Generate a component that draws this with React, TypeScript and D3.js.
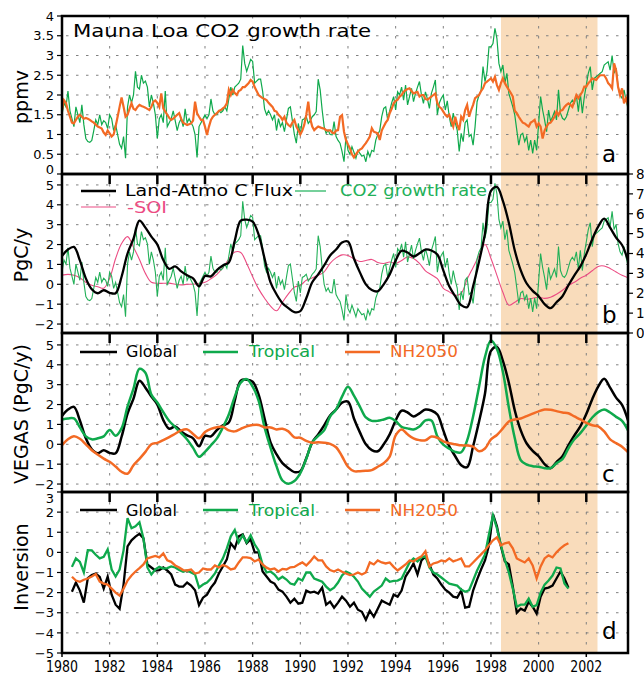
import * as d3 from "d3";

// Mauna Loa CO2 growth rate, monthly from Jan 1980 (ppmv/yr)
const co2Rate = [
  1.5, 1.8, 1.7, 2.1, 1.6, 1.4, 1.2, 1.7, 1.5, 1.3, 1.75, 1.25,
  0.9, 0.82, 0.8, 0.85, 1.1, 1.37, 1.25, 1.5, 1.25, 1.35, 1.3, 1.15,
  1.5, 1.4, 1.1, 1.25, 1.0, 0.75, 0.65, 0.95, 0.4, 1.7, 2.0, 1.8,
  2.0, 2.6, 2.2, 2.15, 2.5, 2.3, 2.35, 2.2, 1.7, 2.0, 1.8, 1.5,
  0.9, 1.4, 1.5, 1.3, 2.1, 1.2, 1.3, 1.4, 1.6, 1.35, 1.1, 1.3,
  1.4, 1.2, 1.65, 1.3, 1.4, 1.3, 1.2, 1.0, 0.42, 1.2, 1.3, 1.4,
  1.5, 1.4, 1.5, 1.9, 1.6, 1.5, 1.5, 1.6, 1.55, 1.6, 1.7, 1.6,
  1.9, 2.2, 2.0, 2.2, 2.25, 2.3, 2.4, 3.25, 2.8, 2.6, 2.75, 2.9,
  2.85, 2.3, 2.35, 2.4, 2.4, 2.1, 1.65, 1.5, 1.6, 1.5, 1.37, 1.5,
  1.1, 1.4, 1.2, 1.3, 1.07, 1.37, 1.66, 1.7, 1.35, 1.0, 0.78, 1.28,
  0.99, 1.37, 1.4, 1.45, 1.28, 1.35, 1.45, 1.5, 1.58, 2.4, 2.13, 1.62,
  1.2, 1.03, 1.11, 1.0, 0.99, 1.33, 0.95, 0.85, 0.78, 0.57, 0.31, 0.95,
  0.6, 0.5, 0.69, 0.55, 0.4, 0.6, 0.52, 0.45, 0.48, 0.31, 0.57, 0.44,
  0.6, 0.57, 0.86, 1.0, 1.1, 1.45, 1.66, 1.7, 1.37, 1.6, 1.8, 1.96,
  1.62, 2.08, 2.0, 2.2, 1.87, 2.25, 1.75, 1.96, 2.17, 1.83, 2.04, 2.2,
  2.34, 2.0, 1.79, 2.08, 1.9, 1.66, 2.04, 2.2, 2.38, 1.5, 1.8, 1.92,
  2.0, 1.62, 1.85, 1.45, 1.2, 1.54, 1.3, 1.11, 0.57, 1.03, 0.82, 1.3,
  1.37, 0.95, 1.0, 0.73, 1.2, 1.83, 2.0, 2.1, 2.72, 2.34, 2.59, 3.22,
  3.22, 3.3, 3.69, 3.43, 2.8, 2.59, 2.76, 2.3, 2.55, 2.04, 1.87, 1.7,
  1.49, 1.11, 0.73, 0.99, 1.03, 0.82, 0.95, 0.6, 0.86, 0.52, 0.86, 0.6,
  1.28, 1.96, 1.62, 1.37, 1.07, 1.62, 1.33, 1.45, 1.58, 1.37, 2.13, 1.54,
  1.41, 1.37, 1.45, 1.62, 1.79, 1.87, 1.79, 2.0, 1.58, 2.04, 1.54, 1.95,
  2.25, 2.55, 2.72, 2.13, 2.42, 2.46, 2.5, 2.55, 2.59, 2.76, 2.8, 2.84,
  2.63, 3.0, 2.55, 2.68, 2.21, 2.0, 1.92, 2.13, 1.87, 1.66,
];

// orange curve in panel a, monthly from Jan 1980 (ppmv/yr)
const co2Model = [
  1.62, 1.87, 1.8, 1.6, 1.45, 1.3, 1.28, 1.37, 1.45, 1.5, 1.45, 1.4,
  1.42, 1.4, 1.37, 1.33, 1.3, 1.25, 1.2, 1.18, 1.15, 1.05, 0.99, 1.1,
  1.03, 0.95, 1.0, 1.2, 1.45, 1.7, 1.94, 1.7, 1.45, 1.5, 1.65, 1.79,
  1.65, 1.62, 1.7, 1.75, 1.72, 1.7, 1.68, 1.65, 1.62, 1.7, 1.83, 1.86,
  1.8, 1.7, 2.04, 1.66, 1.58, 1.5, 1.42, 1.37, 1.4, 1.45, 1.5, 1.54,
  1.4, 1.3, 1.27, 1.24, 1.26, 1.28, 1.35, 1.83, 1.54, 1.45, 1.37, 1.37,
  1.2, 0.99, 1.2, 1.37, 1.45, 1.5, 1.54, 1.6, 1.62, 1.66, 1.7, 1.79,
  2.13, 2.0, 2.13, 2.05, 2.0, 2.1, 2.13, 2.2, 2.2, 2.25, 2.3, 2.38,
  2.34, 2.2, 2.1, 2.0, 1.96, 1.92, 1.9, 1.87, 1.8, 1.75, 1.7, 1.6,
  1.58, 1.5, 1.45, 1.37, 1.45, 1.3, 1.24, 1.2, 1.3, 1.37, 1.2, 1.11,
  1.0, 1.1, 1.25, 1.5, 1.83, 1.4, 1.2, 1.11, 1.16, 1.2, 1.18, 1.16,
  1.15, 1.11, 1.1, 1.11, 1.05, 1.03, 1.1, 1.11, 1.45, 1.49, 1.07, 0.86,
  0.75, 0.65, 0.5, 0.42, 0.5, 0.57, 0.62, 0.65, 0.72, 0.78, 0.86, 0.95,
  1.16, 1.07, 1.05, 1.03, 0.86, 1.1, 1.2, 1.3, 1.37, 1.54, 1.65, 1.79,
  1.85, 1.88, 1.96, 2.0, 2.08, 2.12, 2.15, 2.17, 2.1, 2.04, 2.06, 2.08,
  1.96, 2.0, 2.0, 1.9, 1.88, 1.92, 1.96, 2.0, 2.04, 1.79, 1.7, 1.66,
  1.58, 1.5, 1.45, 1.5, 1.35, 1.2, 1.45, 1.25, 1.11, 1.45, 1.37, 1.62,
  1.75, 1.45, 1.62, 1.75, 1.92, 1.96, 2.0, 2.1, 2.17, 2.3, 2.34, 2.38,
  2.42, 2.34, 2.46, 2.25, 2.13, 2.3, 2.42, 2.3, 2.21, 2.13, 2.05, 1.96,
  1.6, 1.54, 1.45, 1.37, 1.3, 1.28, 1.24, 1.2, 1.3, 1.33, 1.37, 1.2,
  1.28, 1.2, 0.9, 1.1, 1.2, 1.28, 1.3, 1.37, 1.45, 1.58, 1.49, 1.6,
  1.62, 1.7, 1.75, 1.79, 1.75, 1.7, 1.85, 2.0, 1.92, 2.0, 2.08, 2.21,
  2.21, 2.3, 2.35, 2.42, 2.4, 2.38, 2.45, 2.5, 2.5, 2.5, 2.42, 2.3,
  2.25, 2.17, 2.8, 2.63, 2.21, 2.0, 2.17, 1.79, 1.92, 1.75,
];

// VEGAS fluxes, quarterly from 1980.0 (PgC/y)
const vegasGlobal = [
  1.42, 1.75, 1.88, 1.2, 0.3, -0.25, -0.45, -0.3, -0.43, -0.45, 0.38, 1.55,
  2.3, 3.2, 2.85, 2.4, 2.0, 1.22, 0.78, 0.9, 0.65, 0.45, 0.3, -0.1,
  0.42, 0.4, 0.72, 0.95, 1.1, 2.2, 3.2, 3.25, 3.15, 2.5, 1.3, 0.1,
  -0.5, -0.95, -1.2, -1.4, -1.35, -0.7, 0.1, 0.5, 0.95, 1.45, 1.75, 2.1,
  2.15, 1.3, 0.6, 0.0, -0.29, -0.35, 0.0, 0.5, 1.2, 1.69, 1.6, 1.4,
  1.56, 1.75, 1.7, 1.5, 0.7, -0.1, -0.6, -1.05, -1.15, -0.1, 1.15, 2.56,
  4.7, 4.9, 4.2, 3.1, 1.7, 0.7, 0.04, -0.33, -0.6, -1.0, -1.2, -0.9,
  -0.6, -0.05, 0.45, 0.9, 1.52, 2.27, 2.9, 3.3, 2.85, 2.35, 1.98, 1.2,
];
const vegasTropical = [
  1.25, 1.3, 1.3, 0.85, 0.4, 0.25, 0.3, 0.4, 0.72, 0.43, 0.8, 1.9,
  2.8, 3.8, 3.6, 2.5, 2.1, 1.62, 1.17, 0.87, 0.56, 0.24, -0.18, -0.63,
  -0.38, -0.05, 0.3, 0.85, 1.5, 2.4, 3.1, 3.28, 2.9, 2.2, 0.85, -0.17,
  -1.1, -1.82, -1.98, -1.85, -1.45, -0.73, 0.1, 0.42, 0.7, 1.4, 1.75, 2.4,
  2.9, 2.45, 1.9, 1.35, 1.18, 1.18, 1.25, 1.33, 1.17, 0.88, 0.8, 0.75,
  0.9, 1.2, 1.2, 0.4, -0.02, -0.22, -0.38, -0.4, 0.2, 1.4, 2.9, 4.4,
  5.22, 4.8, 3.65, 1.85, 0.3, -0.8, -1.02, -1.1, -1.13, -1.2, -1.2, -0.95,
  -0.75, -0.2, 0.25, 0.56, 0.95, 1.35, 1.62, 1.75, 1.6, 1.38, 1.18, 0.7,
];
const vegasNH = [
  -0.04, 0.25, 0.4, 0.28, 0.0, -0.3, -0.52, -0.72, -0.88, -1.12, -1.38, -1.48,
  -1.05, -0.73, -0.38, 0.0, 0.07, 0.21, 0.36, 0.53, 0.7, 0.75, 0.52, 0.3,
  0.62, 0.78, 0.86, 0.88, 0.7, 0.65, 0.78, 0.9, 0.97, 0.97, 0.85, 0.85,
  0.75, 0.78, 0.65, 0.35, 0.33, 0.17, 0.08, 0.1, 0.08, 0.02, -0.15, -0.6,
  -1.13, -1.35, -1.35, -1.33, -1.3, -1.13, -0.95, -0.62, 0.45, 0.75, 0.5, 0.3,
  0.21, 0.2, 0.39, 0.33, 0.15, 0.05, 0.0, -0.05, -0.06, -0.12, -0.35, -0.21,
  0.25, 0.47, 0.8, 1.15, 1.25, 1.3, 1.42, 1.54, 1.66, 1.75, 1.74, 1.67,
  1.6, 1.56, 1.4, 1.25, 1.08, 0.96, 0.9, 0.65, 0.25, 0.06, -0.12, -0.4,
];
// -SOI, quarterly from 1980.0 (left axis units)
const negSOI = [
  0.46, 0.5, 0.46, 0.33, 0.1, -0.05, -0.12, -0.2, 0.3, 1.3, 2.05, 2.4,
  1.87, 1.25, 0.55, 0.1, 0.05, 0.05, 0.06, 0.0, -0.03, 0.0, 0.01, 0.05,
  0.1, 0.28, 0.5, 0.85, 1.27, 1.62, 1.6, 1.05, 0.38, -0.23, -0.7, -1.1,
  -1.33, -0.9, -0.48, -0.14, -0.05, 0.2, 0.32, 0.45, 0.63, 1.05, 1.33, 1.48,
  1.45, 1.28, 1.15, 1.2, 1.25, 1.1, 1.05, 1.12, 1.05, 1.2, 1.38, 1.3,
  1.05, 0.68, 0.48, 0.28, -0.2, -0.38, -0.55, -0.45, 0.25, 0.85, 1.45, 2.0,
  1.3, 0.45, -0.4, -1.05, -0.9, -0.72, -0.75, -0.7, -0.65, -0.71, -0.65, -0.5,
  -0.3, -0.05, 0.1, 0.3, 0.46, 0.68, 0.9, 0.92, 0.8, 0.62, 0.45, 0.33,
];

// inversion fluxes, every two months from mid-1980 (PgC/y)
const invGlobal = [
  -1.96, -1.5, -1.9, -2.5,
  -1.28, -1.12, -1.05, -1.22, -1.8, -1.2,
  -2.1, -2.6, -2.8, -1.6, 0.3, 0.6,
  0.78, 0.92, 0.7, -0.6, -0.75, -0.9,
  -0.88, -0.75, -0.9, -1.1, -1.6, -1.7,
  -1.7, -1.5, -1.65, -1.88, -2.62, -2.25,
  -2.1, -1.75, -1.5, -1.05, -0.7, -0.35,
  0.45, 0.2, 0.8, 0.9, 0.45, 0.65,
  0.0, 0.0, -0.95, -1.2, -1.45, -1.55,
  -1.85, -1.95, -2.2, -2.5, -2.3, -2.55,
  -2.5, -1.9, -2.0, -1.95, -2.04, -1.75,
  -2.6, -2.45, -2.75, -2.5, -2.2, -2.4,
  -2.7, -2.5, -2.85, -2.95, -3.35, -2.9,
  -3.2, -2.8, -2.4, -2.5, -2.6, -2.1,
  -2.2, -1.9, -1.2, -0.9, -0.55, -1.1,
  -0.4, -0.2, -0.6, -1.1, -1.3, -1.6,
  -1.85, -2.0, -2.2, -2.25, -1.9, -2.75,
  -2.7, -1.9, -1.35, -0.85, -0.4, 0.35,
  1.9, 1.3, 0.3, -0.45, -0.6, -1.7,
  -3.0, -2.8, -2.9, -2.45, -2.7, -3.04,
  -2.2, -1.8, -1.75, -1.65, -1.3, -0.95,
  -1.3, -1.75,
];
const invTropical = [
  -0.72, -0.3, -0.47, -1.0,
  0.11, 0.1, -0.12, -0.3, -0.22, 0.15,
  -0.85, -1.2, -0.85, 0.1, 1.7, 1.2,
  1.3, 1.5, 0.7, -0.75, -1.1, -0.85,
  -0.72, -0.8, -0.78, -0.7, -0.75, -0.88,
  -0.96, -0.9, -1.0, -1.1, -1.75, -1.6,
  -1.5, -1.3, -1.05, -0.65, -0.3, 0.2,
  0.8, 1.11, 0.5, 0.85, 0.5, 0.85,
  0.4, 0.1, -0.6, -1.0, -0.95, -1.1,
  -1.35, -1.21, -1.35, -1.55, -1.6, -1.3,
  -1.4, -1.0, -1.0, -1.3, -1.38, -1.46,
  -1.7, -1.88, -1.75, -1.5, -1.15, -0.96,
  -1.05, -1.21, -1.45, -1.8, -2.0, -2.2,
  -1.95, -1.8, -1.65, -1.3, -1.46, -1.42,
  -1.4, -1.3, -0.9, -0.5, -0.3, -0.45,
  -0.25, -0.2, -0.75, -1.0, -1.1, -1.25,
  -1.4, -1.55, -1.6, -1.65, -1.85, -1.96,
  -1.88, -1.4, -0.9, -0.5, -0.1, 0.9,
  1.84, 1.2, 0.35, -0.38, -1.0, -1.8,
  -2.7, -2.6, -2.6, -2.3, -2.7, -2.62,
  -2.0, -1.6, -1.4, -1.15, -0.75, -0.8,
  -1.55, -1.8,
];
const invNH = [
  -1.21, -1.4, -1.46, -1.36,
  -1.3, -1.2, -1.08, -1.45, -1.55, -1.6,
  -1.8, -2.0, -2.15, -1.8, -1.4, -1.15,
  -0.95, -0.78, -0.6, -0.3, -0.24, -0.18,
  -0.25, -0.05, -0.4, -0.47, -0.65, -0.75,
  -0.88, -0.9, -0.85, -1.05, -1.0, -0.8,
  -0.85, -0.85, -0.65, -0.75, -0.63, -0.7,
  -0.85, -0.8, -0.5, -0.25, -0.25, -0.28,
  -0.45, -0.35, -0.6, -0.76, -0.85, -0.8,
  -0.95, -0.82, -0.85, -0.74, -0.72, -0.6,
  -0.5, -0.65, -0.45, -0.2, -0.4, -0.4,
  -0.7, -0.88, -0.95, -0.85, -0.96, -1.05,
  -1.13, -1.1, -1.0, -1.1, -1.0, -0.5,
  -0.6, -0.4, -0.5, -0.55, -0.5, -0.72,
  -0.9, -0.75, -0.6, -0.4, -0.45, -0.3,
  -0.2, 0.05, -0.7, -0.55, -0.5, -0.4,
  -0.45, -0.3, -0.45, -0.38, -0.3, -0.7,
  -0.7, -0.5, -0.3, -0.1, 0.1, 0.36,
  0.6, 0.75, 0.35, 0.45, 0.5, 0.2,
  -0.3, -0.4, -0.5, -0.3, -0.65, -1.3,
  -0.7, -0.3, -0.15, -0.25, 0.0, 0.2,
  0.35, 0.45,
];

const yearLabels = ["1980", "1982", "1984", "1986", "1988", "1990", "1992", "1994", "1996", "1998", "2000", "2002"];
const elNinoSpan = [1998.42, 2002.47];
// CO2 growth rate in panel b is shown in PgC/y
const pgcPerPpmv = 2.04;

const GREEN = "#0fa94c";
const ORANGE = "#f36a24";
const PINK = "#ec4c83";
const FONT = "DejaVu Sans, sans-serif";

type Pt = [number, number];

const monthly = (v: number[]): Pt[] => v.map((d, i) => [1980 + i / 12, d]);
const quarterly = (v: number[]): Pt[] => v.map((d, i) => [1980 + i / 4, d]);
const bimonthly = (v: number[]): Pt[] => v.map((d, i) => [1980 + 5 / 12 + i / 6, d]);

export default function App() {
  const W = 644;
  const H = 675;
  const left = 62;
  const right = 628;

  const x = d3.scaleLinear().domain([1980, 2003.75]).range([left, right]);

  const panels = [
    { id: "a", top: 16, bottom: 174, y: d3.scaleLinear().domain([0, 4]).range([174, 16]), ticks: d3.range(0, 4.01, 0.5), title: "ppmv", titleY: 97 },
    { id: "b", top: 174, bottom: 333, y: d3.scaleLinear().domain([-2.45, 5.55]).range([333, 174]), ticks: d3.range(-2, 5.01, 1), title: "PgC/y", titleY: 255 },
    { id: "c", top: 333, bottom: 492, y: d3.scaleLinear().domain([-2.4, 5.6]).range([492, 333]), ticks: d3.range(-2, 5.01, 1), title: "VEGAS  (PgC/y)", titleY: 414 },
    { id: "d", top: 492, bottom: 653, y: d3.scaleLinear().domain([-5, 3]).range([653, 492]), ticks: d3.range(-5, 3.01, 1), title: "Inversion", titleY: 567 },
  ];
  const [pa, pb, pc, pd] = panels;
  const yRight = d3.scaleLinear().domain([0, 8]).range([333, 174]);

  const fmt = d3.format("");
  const gridYears = d3.range(1982, 2003, 2);

  // the two labels sitting on a shared border get nudged off the neighbour panel's labels
  const labelShift = (id: string, t: number) => {
    if (id === "a" && t === 0) return -5;
    if (id === "d" && t === 3) return 6;
    return 0;
  };

  const lin = (pts: Pt[], y: d3.ScaleLinear<number, number>) =>
    d3.line<Pt>().x((d) => x(d[0])).y((d) => y(d[1]))(pts) || "";
  const smooth = (pts: Pt[], y: d3.ScaleLinear<number, number>) =>
    d3.line<Pt>().x((d) => x(d[0])).y((d) => y(d[1])).curve(d3.curveCatmullRom.alpha(0.5))(pts) || "";

  const co2PgC = co2Rate.map((v) => v * pgcPerPpmv);

  const legendText = (tx: number, ty: number, s: string, color: string, len: number) => (
    <text x={tx} y={ty} fill={color} fontSize={15} textLength={len} lengthAdjust="spacingAndGlyphs">{s}</text>
  );
  const legendLine = (x1: number, x2: number, ly: number, color: string, w = 2.5) => (
    <line x1={x1} x2={x2} y1={ly} y2={ly} stroke={color} strokeWidth={w} />
  );

  return (
    <svg width={W} height={H} style={{ position: "absolute", left: 0, top: 0, background: "#fff" }} fontFamily={FONT}>
      <defs>
        {panels.map((p) => (
          <clipPath id={`clip-${p.id}`} key={p.id}>
            <rect x={left} y={p.top} width={right - left} height={p.bottom - p.top} />
          </clipPath>
        ))}
      </defs>

      {/* shaded 1998-2002 period */}
      <rect x={x(elNinoSpan[0])} y={16} width={x(elNinoSpan[1]) - x(elNinoSpan[0])} height={653 - 16} fill="#f9dcbb" />

      {/* dotted grid */}
      {panels.map((p) => (
        <g key={`grid-${p.id}`} stroke="#808080" strokeWidth={1} strokeDasharray="2.5,7.5">
          {p.ticks.filter((t) => p.y(t) > p.top + 1 && p.y(t) < p.bottom - 1).map((t) => (
            <line key={t} x1={left + 4} x2={right} y1={p.y(t)} y2={p.y(t)} />
          ))}
          {gridYears.map((yr) => (
            <line key={yr} x1={x(yr)} x2={x(yr)} y1={p.top} y2={p.bottom} />
          ))}
        </g>
      ))}

      {/* panel a */}
      <g clipPath="url(#clip-a)" fill="none">
        <path d={lin(monthly(co2Rate), pa.y)} stroke={GREEN} strokeWidth={1.2} />
        <path d={lin(monthly(co2Model), pa.y)} stroke={ORANGE} strokeWidth={2.2} />
      </g>

      {/* panel b */}
      <g clipPath="url(#clip-b)" fill="none">
        <path d={smooth(quarterly(negSOI), pb.y)} stroke={PINK} strokeWidth={1.1} />
        <path d={lin(monthly(co2PgC), yRight)} stroke="#22b058" strokeWidth={1.1} />
        <path d={smooth(quarterly(vegasGlobal), pb.y)} stroke="#000" strokeWidth={2.3} />
      </g>

      {/* panel c */}
      <g clipPath="url(#clip-c)" fill="none">
        <path d={smooth(quarterly(vegasGlobal), pc.y)} stroke="#000" strokeWidth={2.5} />
        <path d={smooth(quarterly(vegasTropical), pc.y)} stroke={GREEN} strokeWidth={2.5} />
        <path d={smooth(quarterly(vegasNH), pc.y)} stroke={ORANGE} strokeWidth={2.5} />
      </g>

      {/* panel d */}
      <g clipPath="url(#clip-d)" fill="none">
        <path d={lin(bimonthly(invGlobal), pd.y)} stroke="#000" strokeWidth={2.3} />
        <path d={lin(bimonthly(invTropical), pd.y)} stroke={GREEN} strokeWidth={2.3} />
        <path d={lin(bimonthly(invNH), pd.y)} stroke={ORANGE} strokeWidth={2.3} />
      </g>

      {/* frames, axes */}
      {panels.map((p) => (
        <g key={`ax-${p.id}`}>
          <rect x={left} y={p.top} width={right - left} height={p.bottom - p.top} fill="none" stroke="#000" strokeWidth={2.5} />
          {p.id !== "a" && gridYears.map((yr) => (
            <line key={yr} x1={x(yr)} x2={x(yr)} y1={p.top} y2={p.top + 10} stroke="#000" strokeWidth={2.5} />
          ))}
          {p.ticks.map((t) => (
            <g key={t}>
              <line x1={left - 5} x2={left} y1={p.y(t)} y2={p.y(t)} stroke="#000" strokeWidth={1.2} />
              <text x={left - 8} y={p.y(t) + labelShift(p.id, t)} dy="0.36em" textAnchor="end" fontSize={13}>{fmt(t)}</text>
            </g>
          ))}
          <text transform={`translate(28,${p.titleY}) rotate(-90)`} textAnchor="middle" fontSize={19}>{p.title}</text>
        </g>
      ))}

      {/* right axis of panel b */}
      {yRight.ticks(8).map((t) => (
        <g key={`r${t}`}>
          <line x1={right} x2={right + 5} y1={yRight(t)} y2={yRight(t)} stroke="#000" strokeWidth={1.2} />
          <text x={right + 8} y={yRight(t)} dy="0.36em" fontSize={13.5}>{t}</text>
        </g>
      ))}

      {/* bottom year axis */}
      {yearLabels.map((s) => (
        <g key={s}>
          <line x1={x(+s)} x2={x(+s)} y1={653} y2={657} stroke="#000" strokeWidth={1.5} />
          <text x={x(+s)} y={672} textAnchor="middle" fontSize={15} textLength={32} lengthAdjust="spacingAndGlyphs">{s}</text>
        </g>
      ))}

      {/* titles, legends, panel letters */}
      <text x={73} y={37} fontSize={18.5} textLength={298} lengthAdjust="spacingAndGlyphs">Mauna Loa CO2 growth rate</text>

      {legendLine(81, 116, 191, "#000")}
      {legendText(125, 196, "Land-Atmo C Flux", "#000", 168)}
      {legendLine(295, 326, 191, "#49c07a", 1.5)}
      {legendText(340, 196, "CO2 growth rate", "#22b058", 147)}
      {legendLine(81, 116, 207, PINK, 1.2)}
      {legendText(127, 213, "-SOI", PINK, 40)}

      {legendLine(80, 117, 352, "#000")}
      {legendText(126, 357, "Global", "#000", 51)}
      {legendLine(203, 238, 352, GREEN)}
      {legendText(249, 357, "Tropical", GREEN, 66)}
      {legendLine(345, 380, 352, ORANGE)}
      {legendText(390, 357, "NH2050", ORANGE, 68)}

      {legendLine(80, 117, 510, "#000")}
      {legendText(126, 516, "Global", "#000", 51)}
      {legendLine(203, 238, 510, GREEN)}
      {legendText(249, 516, "Tropical", GREEN, 66)}
      {legendLine(345, 380, 510, ORANGE)}
      {legendText(390, 516, "NH2050", ORANGE, 68)}

      <text x={602} y={162} fontSize={23}>a</text>
      <text x={602} y={323} fontSize={23}>b</text>
      <text x={602} y={482} fontSize={23}>c</text>
      <text x={602} y={639} fontSize={23}>d</text>
    </svg>
  );
}
